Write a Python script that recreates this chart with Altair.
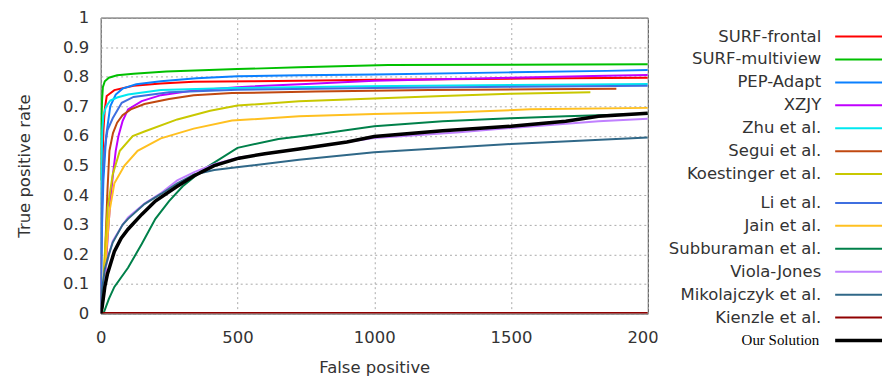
import altair as alt
import pandas as pd

series_names = ["SURF-frontal", "SURF-multiview", "PEP-Adapt", "XZJY", "Zhu et al.",
                "Segui et al.", "Koestinger et al.", "Li et al.", "Jain et al.",
                "Subburaman et al.", "Viola-Jones", "Mikolajczyk et al.",
                "Kienzle et al.", "Our Solution"]
series_colors = ["#ff0000", "#00c000", "#0a80ff", "#c000ff", "#00e8f0",
                 "#c04810", "#c8c800", "#3f6fe0", "#ffc020",
                 "#00804a", "#c080ff", "#306888", "#900000", "#000000"]

fp_surf_frontal = [0, 5, 10, 15, 22, 50, 120, 220, 340, 550, 725, 1000, 1560, 2000]
tpr_surf_frontal = [0.0, 0.45, 0.62, 0.69, 0.735, 0.755, 0.77, 0.777, 0.783, 0.785, 0.787, 0.79, 0.794, 0.797]

fp_surf_multiview = [0, 2, 5, 8, 15, 30, 60, 120, 240, 500, 725, 1050, 2000]
tpr_surf_multiview = [0.45, 0.63, 0.72, 0.765, 0.785, 0.797, 0.805, 0.81, 0.818, 0.826, 0.832, 0.84, 0.842]

fp_pep_adapt = [0, 5, 10, 20, 35, 55, 80, 130, 220, 350, 500, 725, 1000, 1500, 1850, 2000]
tpr_pep_adapt = [0.0, 0.3, 0.45, 0.6, 0.7, 0.74, 0.76, 0.775, 0.785, 0.795, 0.802, 0.805, 0.808, 0.815, 0.82, 0.823]

fp_xzjy = [0, 15, 25, 35, 45, 55, 65, 80, 100, 150, 220, 350, 500, 750, 1000, 1500, 1800, 2000]
tpr_xzjy = [0.0, 0.1, 0.25, 0.38, 0.47, 0.55, 0.6, 0.65, 0.69, 0.718, 0.738, 0.755, 0.765, 0.776, 0.787, 0.797, 0.803, 0.806]

fp_zhu = [0, 3, 6, 10, 20, 35, 60, 100, 220, 480, 970, 1500, 1780, 2000]
tpr_zhu = [0.2, 0.5, 0.62, 0.67, 0.7, 0.72, 0.73, 0.74, 0.755, 0.762, 0.768, 0.772, 0.774, 0.776]

fp_segui = [0, 10, 18, 25, 32, 45, 60, 80, 110, 160, 250, 340, 480, 785, 1200, 1600, 1885]
tpr_segui = [0.0, 0.05, 0.25, 0.42, 0.55, 0.61, 0.645, 0.67, 0.69, 0.708, 0.725, 0.738, 0.745, 0.75, 0.755, 0.758, 0.76]

fp_koestinger = [0, 8, 15, 26, 44, 70, 117, 160, 280, 400, 500, 725, 1000, 1250, 1500, 1790]
tpr_koestinger = [0.0, 0.08, 0.2, 0.36, 0.47, 0.55, 0.6, 0.615, 0.656, 0.685, 0.703, 0.717, 0.727, 0.735, 0.743, 0.748]

fp_li = [0, 3, 8, 15, 25, 44, 77, 120, 250, 500, 1000, 1500, 2000]
tpr_li = [0.0, 0.3, 0.47, 0.56, 0.62, 0.66, 0.712, 0.732, 0.748, 0.756, 0.762, 0.766, 0.77]

fp_jain = [0, 8, 20, 33, 50, 87, 135, 220, 340, 480, 725, 1000, 1300, 1570, 2000]
tpr_jain = [0.0, 0.05, 0.2, 0.35, 0.44, 0.5, 0.55, 0.592, 0.625, 0.652, 0.667, 0.674, 0.68, 0.69, 0.695]

fp_subburaman = [0, 10, 30, 50, 100, 150, 200, 250, 300, 380, 500, 650, 800, 1000, 1250, 1500, 1700, 2000]
tpr_subburaman = [0.0, 0.0, 0.05, 0.09, 0.155, 0.235, 0.32, 0.38, 0.43, 0.49, 0.56, 0.59, 0.607, 0.633, 0.65, 0.66, 0.667, 0.675]

fp_viola_jones = [0, 5, 15, 30, 44, 80, 100, 160, 222, 280, 342, 415, 505, 725, 1000, 1300, 1500, 1820, 2000]
tpr_viola_jones = [0.0, 0.07, 0.14, 0.2, 0.245, 0.3, 0.325, 0.372, 0.408, 0.45, 0.478, 0.505, 0.527, 0.556, 0.593, 0.612, 0.627, 0.65, 0.658]

fp_mikolajczyk = [0, 5, 15, 30, 44, 80, 100, 160, 222, 280, 342, 415, 505, 725, 1000, 1500, 2000]
tpr_mikolajczyk = [0.0, 0.08, 0.15, 0.2, 0.24, 0.3, 0.32, 0.37, 0.405, 0.44, 0.47, 0.485, 0.495, 0.52, 0.545, 0.573, 0.595]

fp_kienzle = [0, 2000]
tpr_kienzle = [0.002, 0.002]

fp_ours = [0, 5, 15, 25, 50, 75, 100, 150, 200, 280, 340, 415, 505, 600, 725, 900, 1000, 1250, 1500, 1700, 1820, 2000]
tpr_ours = [0.0, 0.02, 0.09, 0.135, 0.21, 0.255, 0.285, 0.335, 0.38, 0.43, 0.465, 0.5, 0.525, 0.54, 0.556, 0.58, 0.598, 0.618, 0.633, 0.65, 0.667, 0.677]

x_ticks = [0, 500, 1000, 1500, 2000]
y_ticks = [0, 0.1, 0.2, 0.3, 0.4, 0.5, 0.6, 0.7, 0.8, 0.9, 1]

fp_lists = [fp_surf_frontal, fp_surf_multiview, fp_pep_adapt, fp_xzjy, fp_zhu, fp_segui,
            fp_koestinger, fp_li, fp_jain, fp_subburaman, fp_viola_jones, fp_mikolajczyk,
            fp_kienzle, fp_ours]
tpr_lists = [tpr_surf_frontal, tpr_surf_multiview, tpr_pep_adapt, tpr_xzjy, tpr_zhu, tpr_segui,
             tpr_koestinger, tpr_li, tpr_jain, tpr_subburaman, tpr_viola_jones, tpr_mikolajczyk,
             tpr_kienzle, tpr_ours]

rows = []
for k, (name, fps, tprs) in enumerate(zip(series_names, fp_lists, tpr_lists)):
    for f, t in zip(fps, tprs):
        rows.append({"method": name, "order": k, "fp": f, "tpr": t})
df = pd.DataFrame(rows)

FONT = "DejaVu Sans"
TXT = "#333333"
FS = 16.5

color_scale = alt.Scale(domain=series_names, range=series_colors)

x_enc = alt.X("fp:Q", scale=alt.Scale(domain=[0, 2000], nice=False, zero=False),
              axis=alt.Axis(values=x_ticks, title="False positive", format="d",
                            labelPadding=16, titlePadding=14, labelFlush=False,
                            labelOverlap=False))
y_enc = alt.Y("tpr:Q", scale=alt.Scale(domain=[0, 1], nice=False),
              axis=alt.Axis(values=y_ticks, title="True positive rate", format="~g",
                            labelPadding=12, titlePadding=30, labelFlush=False,
                            labelOverlap=False))

others = alt.Chart(df[df["method"] != "Our Solution"]).mark_line(strokeWidth=2, clip=True).encode(
    x=x_enc, y=y_enc,
    color=alt.Color("method:N", scale=color_scale, legend=None),
    order=alt.Order("fp:Q"),
)
ours = alt.Chart(df[df["method"] == "Our Solution"]).mark_line(strokeWidth=3.5, clip=True).encode(
    x=x_enc, y=y_enc,
    color=alt.Color("method:N", scale=color_scale, legend=None),
    order=alt.Order("fp:Q"),
)

plot = alt.layer(others, ours).properties(
    width=549, height=297,
    view=alt.ViewBackground(stroke="#444444", strokeWidth=1),
)

# legend panel
LEG_W, LEG_H = 225, 340
gap_after = 7
leg_df = pd.DataFrame({
    "method": series_names,
    "slot": [i + (0.26 if i >= gap_after else 0) for i in range(len(series_names))],
})
y_leg = alt.Y("slot:Q", scale=alt.Scale(domain=[-19 / 23, (LEG_H - 19) / 23], reverse=True, nice=False, zero=False), axis=None)

bg = alt.Chart(leg_df.head(1)).mark_rect(color="white").encode(
    x=alt.value(0), x2=alt.value(LEG_W), y=alt.value(0), y2=alt.value(LEG_H))
leg_text = alt.Chart(leg_df[leg_df["method"] != "Our Solution"]).mark_text(
    align="right", baseline="middle", font=FONT, fontSize=FS, color=TXT, clip=True).encode(
    x=alt.value(164), y=y_leg, text="method:N")
leg_text2 = alt.Chart(leg_df[leg_df["method"] == "Our Solution"]).mark_text(
    align="right", baseline="middle", font="Liberation Serif", fontSize=15, color="#000000").encode(
    x=alt.value(162), y=y_leg, text="method:N")
leg_rule = alt.Chart(leg_df[leg_df["method"] != "Our Solution"]).mark_rule(strokeWidth=2).encode(
    x=alt.value(178), x2=alt.value(LEG_W), y=y_leg,
    color=alt.Color("method:N", scale=color_scale, legend=None))
leg_rule2 = alt.Chart(leg_df[leg_df["method"] == "Our Solution"]).mark_rule(strokeWidth=3.5).encode(
    x=alt.value(178), x2=alt.value(LEG_W), y=y_leg,
    color=alt.Color("method:N", scale=color_scale, legend=None))

legend_panel = alt.layer(bg, leg_rule, leg_rule2, leg_text, leg_text2).properties(
    width=LEG_W, height=LEG_H)

chart = alt.hconcat(plot, legend_panel, spacing=10, bounds="flush").resolve_scale(
    color="shared", y="independent", x="independent"
).properties(
    padding={"left": 8, "top": 0, "right": 0, "bottom": 0},
    background="white",
).configure_view(
    stroke="transparent"
).configure_axis(
    labelFont=FONT, labelFontSize=FS, labelColor=TXT,
    titleFont=FONT, titleFontSize=FS, titleFontWeight="normal", titleColor=TXT,
    ticks=False, domain=False, grid=True,
    gridColor="#aaaaaa", gridDash=[2, 3], gridWidth=1, gridOpacity=1,
)

chart.save("out.html", embed_options={"renderer": "svg", "actions": False})
